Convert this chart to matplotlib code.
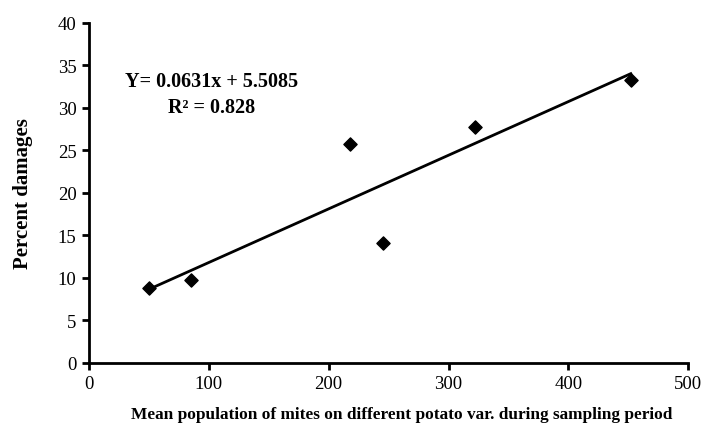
import numpy as np
import matplotlib
matplotlib.use("Agg")
import matplotlib.pyplot as plt

# -------------------------
# Data
# -------------------------
mites = [50, 85, 218, 245, 322, 452]
damage = [8.8, 9.8, 25.7, 14.1, 27.8, 33.3]

slope = 0.0631
intercept = 5.5085
r2 = 0.828

xticks = [0, 100, 200, 300, 400, 500]
yticks = [0, 5, 10, 15, 20, 25, 30, 35, 40]

# -------------------------
# Plot
# -------------------------
plt.rcParams["font.family"] = ["Liberation Serif", "DejaVu Serif"]

fig = plt.figure(figsize=(7.23, 4.31), dpi=100)
ax = fig.add_axes([0.123, 0.1555, 0.829, 0.789])

ax.scatter(mites, damage, marker="D", s=45, color="black", zorder=3)

fit_x = np.array([min(mites), max(mites)])
ax.plot(fit_x, slope * fit_x + intercept, color="black", linewidth=2)

ax.set_xlim(0, 500)
ax.set_ylim(0, 40)
ax.set_xticks(xticks)
ax.set_yticks(yticks)

for side in ["top", "right"]:
    ax.spines[side].set_visible(False)
for side in ["left", "bottom"]:
    ax.spines[side].set_linewidth(2)

ax.tick_params(direction="out", length=5, width=2, labelsize=13.5, pad=4)

ax.set_xlabel("Mean population of mites on different potato var. during sampling period",
              fontsize=12.4, fontweight="bold")
ax.xaxis.set_label_coords(0.521, -0.126)
ax.set_ylabel("Percent damages", fontsize=15, fontweight="bold", labelpad=18)

ax.text(0.205, 0.79, f"Y= {slope}x + {intercept}\nR\u00b2 = {r2}",
        transform=ax.transAxes, ha="center", va="center",
        fontsize=14.5, fontweight="bold", linespacing=1.4)

fig.savefig("out.png", dpi=100)
